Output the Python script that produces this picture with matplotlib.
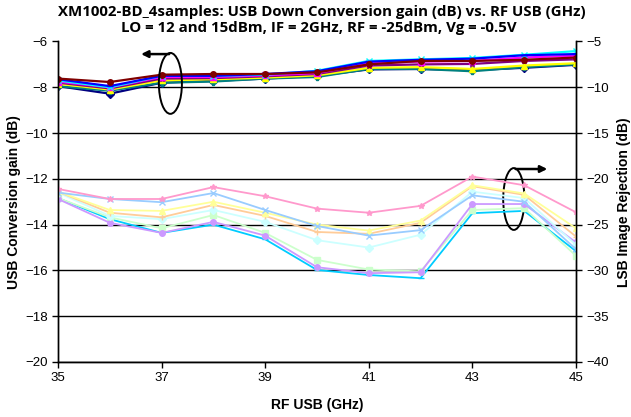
import numpy as np
import matplotlib.pyplot as plt
from matplotlib.patches import Ellipse

plt.rcParams.update({
    "font.family": ["Liberation Sans", "DejaVu Sans"],
    "font.size": 9,
})

freq = [35, 36, 37, 38, 39, 40, 41, 42, 43, 44, 45]

# USB conversion gain (dB), left axis
gain_maroon = [-7.62, -7.77, -7.45, -7.42, -7.42, -7.35, -7.00, -6.85, -6.85, -6.80, -6.70]
gain_blue = [-7.65, -7.95, -7.50, -7.50, -7.42, -7.30, -6.88, -6.80, -6.75, -6.60, -6.55]
gain_cyan = [-7.70, -8.00, -7.50, -7.50, -7.45, -7.28, -6.85, -6.78, -6.72, -6.58, -6.42]
gain_magenta = [-7.75, -8.00, -7.55, -7.55, -7.48, -7.38, -6.95, -6.88, -6.85, -6.70, -6.62]
gain_purple = [-7.80, -8.05, -7.62, -7.60, -7.52, -7.42, -7.05, -7.00, -6.98, -6.85, -6.78]
gain_yellow = [-7.85, -8.10, -7.70, -7.65, -7.58, -7.48, -7.15, -7.12, -7.20, -7.05, -6.95]
gain_teal = [-7.95, -8.15, -7.80, -7.75, -7.62, -7.55, -7.20, -7.20, -7.30, -7.12, -7.00]
gain_navy = [-7.95, -8.28, -7.80, -7.72, -7.62, -7.50, -7.22, -7.20, -7.25, -7.15, -7.02]

# LSB image rejection (dB), right axis
rej_pink = [-21.1, -22.2, -22.2, -20.9, -21.9, -23.25, -23.7, -22.95, -19.75, -20.7, -23.65]
rej_ltblue = [-21.5, -22.2, -22.55, -21.55, -23.4, -25.15, -26.2, -25.6, -21.8, -22.5, -27.7]
rej_ltyellow = [-21.4, -23.4, -23.5, -22.5, -23.7, -25.0, -25.65, -24.55, -20.7, -21.6, -25.4]
rej_orange = [-21.4, -23.7, -24.2, -22.85, -24.05, -25.8, -26.0, -24.8, -20.8, -21.75, -26.3]
rej_ltcyan = [-21.5, -24.05, -24.4, -23.4, -24.7, -26.7, -27.5, -26.1, -21.4, -22.1, -27.2]
rej_ltgreen = [-22.1, -24.2, -25.4, -23.95, -25.9, -28.85, -29.9, -30.1, -23.4, -23.2, -28.4]
rej_lavender = [-22.2, -24.8, -25.9, -24.7, -26.2, -29.65, -30.3, -30.2, -22.75, -22.75, -26.95]
rej_sky = [-22.1, -24.4, -25.9, -25.0, -26.6, -29.95, -30.5, -30.85, -23.75, -23.5, -27.9]

gain_series = [
    (gain_navy, "#000080", "D"),
    (gain_teal, "#008080", "P"),
    (gain_yellow, "#FFFF00", "^"),
    (gain_purple, "#800080", "*"),
    (gain_magenta, "#FF00FF", "s"),
    (gain_cyan, "#00FFFF", "x"),
    (gain_blue, "#0000FF", "_"),
    (gain_maroon, "#800000", "o"),
]
rej_series = [
    (rej_sky, "#00CCFF", "_"),
    (rej_ltgreen, "#CCFFCC", "s"),
    (rej_lavender, "#CC99FF", "o"),
    (rej_ltcyan, "#CCFFFF", "D"),
    (rej_orange, "#FFCC99", "+"),
    (rej_ltyellow, "#FFFF99", "^"),
    (rej_ltblue, "#99CCFF", "x"),
    (rej_pink, "#FF99CC", "*"),
]

fig = plt.figure(figsize=(6.31, 4.17), dpi=100)
ax = fig.add_axes([0.0919, 0.1319, 0.8209, 0.7686])
ax2 = ax.twinx()

for vals, col, mk in gain_series:
    ax.plot(freq, vals, color=col, linewidth=1.6, marker=mk, markersize=4,
            markeredgewidth=1.0)
for vals, col, mk in rej_series:
    ax2.plot(freq, vals, color=col, linewidth=1.3, marker=mk, markersize=4,
             markeredgewidth=1.0)

ax.set_xlim(35, 45)
ax.set_ylim(-20, -6)
ax2.set_ylim(-40, -5)
ax.set_xticks([35, 37, 39, 41, 43, 45])
ax.set_yticks(np.arange(-20, -5, 2))
ax2.set_yticks(np.arange(-40, -4, 5))

ax.grid(axis="y", color="black", linewidth=1.0)
ax.yaxis.get_gridlines()[-1].set_visible(False)
ax.set_axisbelow(True)

for a in (ax, ax2):
    a.spines["top"].set_visible(False)
    for s in ("left", "right", "bottom"):
        a.spines[s].set_linewidth(1.0)
ax.tick_params(direction="out", length=4, width=1, labelsize=9.5, colors="black")
ax2.tick_params(direction="out", length=4, width=1, labelsize=9.5, colors="black")

ax.set_xlabel("RF USB (GHz)", fontsize=10, fontweight="bold", labelpad=10)
ax.set_ylabel("USB Conversion gain (dB)", fontsize=10, fontweight="bold", labelpad=3)
ax2.set_ylabel("LSB Image Rejection (dB)", fontsize=10, fontweight="bold", labelpad=6)

fig.text(0.51, 0.972, "XM1002-BD_4samples: USB Down Conversion gain (dB) vs. RF USB (GHz)",
         ha="center", va="center", fontsize=10.8, fontweight="bold", family="Open Sans")
fig.text(0.505, 0.933, "LO = 12 and 15dBm, IF = 2GHz, RF = -25dBm, Vg = -0.5V",
         ha="center", va="center", fontsize=10.8, fontweight="bold", family="Open Sans")

# annotation ellipses and arrows (left axis data coords)
ax.add_patch(Ellipse((37.17, -7.83), 0.445, 2.66, fill=False, edgecolor="black",
                     linewidth=1.4, zorder=5, clip_on=False))
ax.annotate("", xy=(36.55, -6.55), xytext=(37.2, -6.55),
            arrowprops=dict(arrowstyle="-|>", color="black", lw=1.8,
                            mutation_scale=10), zorder=5)
ax.add_patch(Ellipse((43.80, -12.88), 0.41, 2.7, fill=False, edgecolor="black",
                     linewidth=1.4, zorder=5))
ax.annotate("", xy=(44.5, -11.57), xytext=(43.78, -11.57),
            arrowprops=dict(arrowstyle="-|>", color="black", lw=1.8,
                            mutation_scale=10), zorder=5)

fig.savefig("out.png", dpi=100)
